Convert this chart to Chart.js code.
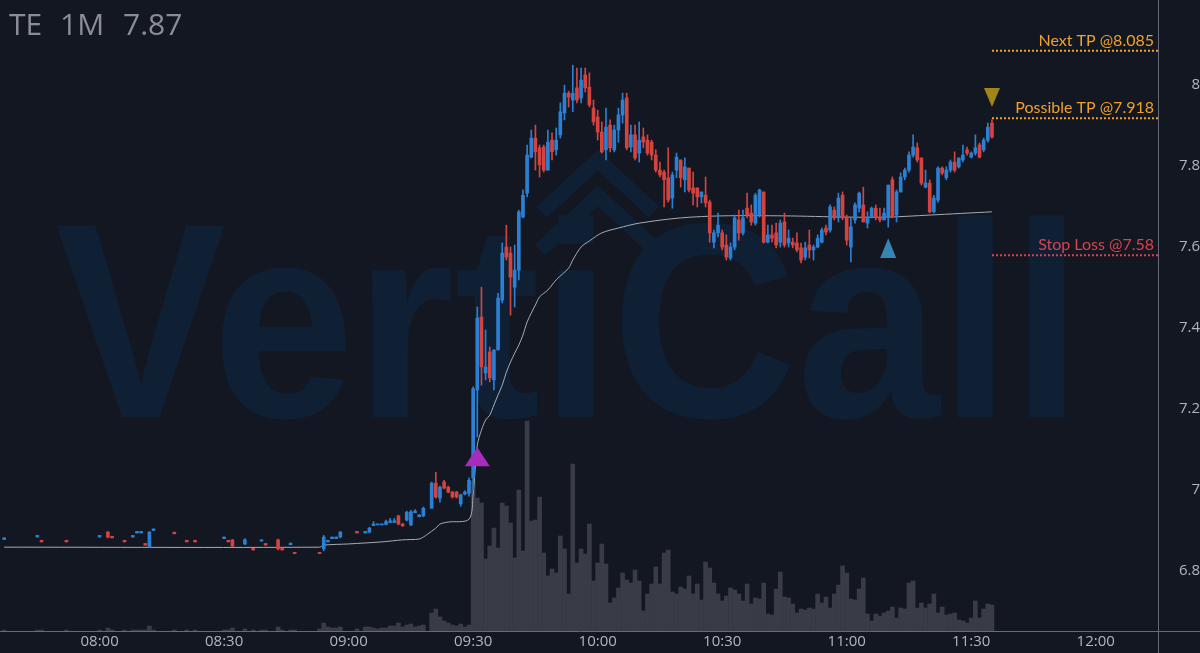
<!DOCTYPE html>
<html>
<head>
<meta charset="utf-8">
<script src="https://cdn.jsdelivr.net/npm/chart.js@4.4.1/dist/chart.umd.min.js"></script>
<style>
  html, body { margin: 0; padding: 0; background: #131722; }
  canvas { display: block; }
</style>
</head>
<body>
<canvas id="myChart" width="1200" height="653"></canvas>
<script>
// 1 minute bars, TE
const times = [
  "07:37","07:45","07:46","07:52","08:00","08:02","08:03","08:06","08:08","08:09",
  "08:10","08:11","08:12","08:13","08:18","08:21","08:23","08:30","08:31","08:32",
  "08:35","08:37","08:39","08:40","08:43","08:44","08:46","08:47","08:53","08:54",
  "08:55","08:56","08:57","08:58","09:02","09:04","09:05","09:06","09:07","09:08",
  "09:09","09:10","09:11","09:12","09:13","09:14","09:15","09:16","09:17","09:18",
  "09:20","09:21","09:22","09:23","09:24","09:25","09:26","09:27","09:28","09:29",
  "09:30","09:31","09:32","09:33","09:34","09:35","09:36","09:37","09:38","09:39",
  "09:40","09:41","09:42","09:43","09:44","09:45","09:46","09:47","09:48","09:49",
  "09:50","09:51","09:52","09:53","09:54","09:55","09:56","09:57","09:58","09:59",
  "10:00","10:01","10:02","10:03","10:04","10:05","10:06","10:07","10:08","10:09",
  "10:10","10:11","10:12","10:13","10:14","10:15","10:16","10:17","10:18","10:19",
  "10:20","10:21","10:22","10:23","10:24","10:25","10:26","10:27","10:28","10:29",
  "10:30","10:31","10:32","10:33","10:34","10:35","10:36","10:37","10:38","10:39",
  "10:40","10:41","10:42","10:43","10:44","10:45","10:46","10:47","10:48","10:49",
  "10:50","10:51","10:52","10:53","10:54","10:55","10:56","10:57","10:58","10:59",
  "11:00","11:01","11:02","11:03","11:04","11:05","11:06","11:07","11:08","11:09",
  "11:10","11:11","11:12","11:13","11:14","11:15","11:16","11:17","11:18","11:19",
  "11:20","11:21","11:22","11:23","11:24","11:25","11:26","11:27","11:28","11:29",
  "11:30","11:31","11:32","11:33","11:34","11:35"
];
const opens = [
  6.878,6.884,6.876,6.876,6.884,6.896,6.886,6.876,6.884,6.894,
  6.894,6.868,6.860,6.900,6.896,6.876,6.876,6.880,6.876,6.877,
  6.867,6.856,6.874,6.868,6.877,6.856,6.865,6.846,6.846,6.855,
  6.872,6.880,6.880,6.884,6.898,6.894,6.896,6.912,6.914,6.914,
  6.915,6.920,6.920,6.936,6.916,6.926,6.914,6.944,6.934,6.936,
  6.955,7.017,6.980,7.020,7.007,6.995,6.995,6.966,6.990,6.992,
  7.030,7.247,7.427,7.289,7.341,7.272,7.346,7.469,7.600,7.585,
  7.501,7.543,7.674,7.733,7.822,7.869,7.845,7.847,7.790,7.864,
  7.840,7.877,7.931,7.980,7.963,7.993,7.968,8.025,7.995,7.943,
  7.921,7.884,7.840,7.901,7.840,7.889,7.926,7.968,7.847,7.877,
  7.832,7.872,7.864,7.859,7.827,7.790,7.785,7.771,7.721,7.790,
  7.815,7.766,7.795,7.746,7.746,7.724,7.728,7.711,7.612,7.635,
  7.635,7.605,7.573,7.600,7.667,7.635,7.696,7.684,7.659,7.679,
  7.736,7.612,7.630,7.635,7.612,7.662,7.610,7.612,7.610,7.598,
  7.575,7.605,7.593,7.600,7.612,7.647,7.642,7.691,7.672,7.728,
  7.674,7.600,7.667,7.696,7.704,7.659,7.674,7.696,7.674,7.667,
  7.674,7.766,7.679,7.736,7.773,7.790,7.827,7.845,7.820,7.748,
  7.758,7.687,7.716,7.795,7.771,7.790,7.810,7.798,7.815,7.840,
  7.822,7.832,7.852,7.840,7.864,7.906
];
const highs = [
  6.882,6.888,6.876,6.876,6.888,6.898,6.886,6.876,6.888,6.898,
  6.898,6.868,6.898,6.904,6.896,6.876,6.876,6.884,6.876,6.878,
  6.880,6.856,6.877,6.868,6.879,6.856,6.869,6.846,6.846,6.888,
  6.876,6.884,6.884,6.898,6.898,6.898,6.908,6.922,6.916,6.916,
  6.926,6.930,6.930,6.938,6.918,6.948,6.950,6.952,6.940,6.958,
  7.020,7.044,7.010,7.024,7.010,6.997,6.997,6.990,6.998,7.030,
  7.255,7.452,7.501,7.395,7.353,7.346,7.486,7.610,7.654,7.600,
  7.605,7.691,7.741,7.852,7.889,7.901,7.852,7.852,7.889,7.882,
  7.894,7.956,8.000,7.985,8.049,8.042,8.042,8.042,8.030,7.963,
  7.938,7.909,7.943,7.914,7.901,7.943,7.980,7.980,7.901,7.901,
  7.909,7.894,7.877,7.864,7.840,7.810,7.790,7.845,7.785,7.832,
  7.815,7.820,7.795,7.785,7.746,7.736,7.773,7.716,7.642,7.684,
  7.642,7.630,7.610,7.679,7.691,7.691,7.733,7.704,7.733,7.743,
  7.736,7.654,7.654,7.659,7.667,7.684,7.642,7.622,7.635,7.610,
  7.612,7.642,7.605,7.630,7.647,7.654,7.704,7.699,7.733,7.736,
  7.679,7.672,7.709,7.736,7.748,7.687,7.699,7.704,7.696,7.696,
  7.753,7.773,7.741,7.783,7.795,7.835,7.877,7.857,7.820,7.790,
  7.766,7.728,7.798,7.798,7.798,7.815,7.835,7.820,7.852,7.847,
  7.835,7.877,7.857,7.869,7.906,7.914
];
const lows = [
  6.878,6.884,6.872,6.872,6.884,6.882,6.882,6.872,6.884,6.894,
  6.894,6.864,6.858,6.900,6.892,6.872,6.872,6.880,6.872,6.860,
  6.865,6.852,6.874,6.864,6.852,6.852,6.865,6.843,6.843,6.850,
  6.872,6.880,6.880,6.882,6.894,6.894,6.894,6.912,6.914,6.914,
  6.914,6.920,6.920,6.914,6.910,6.924,6.912,6.944,6.934,6.934,
  6.955,6.980,6.970,7.003,6.993,6.980,6.980,6.960,6.988,6.985,
  7.000,7.131,7.259,7.272,7.267,7.247,7.346,7.462,7.568,7.432,
  7.452,7.519,7.672,7.724,7.820,7.790,7.773,7.785,7.790,7.815,
  7.827,7.869,7.914,7.946,7.934,7.956,7.956,7.983,7.946,7.901,
  7.864,7.832,7.815,7.835,7.835,7.859,7.906,7.840,7.835,7.815,
  7.810,7.845,7.827,7.815,7.785,7.773,7.699,7.711,7.696,7.771,
  7.748,7.736,7.736,7.704,7.699,7.709,7.699,7.612,7.598,7.625,
  7.593,7.568,7.568,7.593,7.617,7.630,7.672,7.654,7.654,7.674,
  7.610,7.610,7.612,7.598,7.600,7.600,7.600,7.598,7.588,7.561,
  7.568,7.573,7.568,7.598,7.610,7.630,7.637,7.667,7.662,7.667,
  7.605,7.563,7.659,7.687,7.662,7.647,7.672,7.667,7.662,7.667,
  7.649,7.672,7.662,7.736,7.766,7.785,7.822,7.810,7.753,7.746,
  7.684,7.684,7.711,7.778,7.766,7.785,7.785,7.795,7.810,7.827,
  7.820,7.827,7.820,7.835,7.859,7.869
];
const closes = [
  6.882,6.888,6.872,6.872,6.888,6.884,6.882,6.872,6.888,6.898,
  6.898,6.864,6.896,6.904,6.892,6.872,6.872,6.884,6.872,6.862,
  6.877,6.852,6.877,6.864,6.855,6.852,6.869,6.843,6.843,6.884,
  6.876,6.884,6.884,6.896,6.894,6.898,6.906,6.916,6.916,6.916,
  6.922,6.924,6.924,6.916,6.912,6.945,6.946,6.948,6.938,6.955,
  7.017,6.983,7.007,7.005,6.995,6.983,6.983,6.988,6.995,7.024,
  7.250,7.425,7.304,7.304,7.277,7.346,7.474,7.585,7.575,7.526,
  7.543,7.687,7.728,7.827,7.869,7.835,7.803,7.790,7.859,7.835,
  7.864,7.934,7.980,7.970,7.980,7.963,8.012,7.993,7.951,7.909,
  7.884,7.835,7.896,7.845,7.889,7.926,7.963,7.845,7.877,7.820,
  7.864,7.859,7.832,7.827,7.790,7.778,7.766,7.716,7.778,7.822,
  7.771,7.798,7.741,7.733,7.724,7.736,7.709,7.635,7.635,7.654,
  7.600,7.575,7.600,7.672,7.635,7.672,7.679,7.662,7.728,7.741,
  7.612,7.630,7.622,7.605,7.659,7.605,7.622,7.605,7.593,7.568,
  7.598,7.593,7.600,7.622,7.642,7.637,7.699,7.672,7.721,7.672,
  7.617,7.650,7.704,7.733,7.662,7.674,7.696,7.674,7.667,7.684,
  7.753,7.674,7.736,7.773,7.790,7.827,7.847,7.815,7.758,7.758,
  7.687,7.721,7.795,7.783,7.790,7.810,7.790,7.820,7.827,7.832,
  7.832,7.845,7.822,7.864,7.896,7.872
];
// volume, thousands of shares
const volumes = [
  1,1,1,1,1,3,1,1,1,1,
  1,1,5,1,1,1,1,1,1,3,
  2,1,1,1,4,1,1,1,2,8,
  4,3,3,4,2,4,4,3,2,3,
  3,5,5,8,4,6,7,4,5,6,
  18,22,14,10,8,6,5,7,4,6,
  150,133,128,72,85,103,83,128,125,108,
  73,141,80,210,110,111,134,78,55,62,
  58,95,82,37,167,68,82,77,107,50,
  68,87,67,28,33,43,58,51,48,61,
  50,20,37,47,64,47,78,81,39,37,
  44,42,55,37,47,31,69,63,48,37,
  30,35,43,41,37,30,47,27,33,32,
  48,17,16,42,59,34,33,27,18,22,
  21,23,22,37,28,34,23,37,46,65,
  58,32,31,42,53,17,10,17,15,18,
  20,24,13,23,22,48,50,23,28,23,
  27,37,18,24,16,17,18,11,10,8,
  13,30,13,22,27,26
];

// VWAP
const vwapTimes = ["07:37","08:53","08:54","09:00","09:08","09:13","09:17","09:18","09:19","09:21","09:22","09:24","09:29",
  "09:30","09:31","09:32","09:33","09:34","09:35","09:36","09:37","09:38","09:39","09:40","09:41","09:42","09:43","09:44",
  "09:45","09:46","09:48","09:50","09:53","09:54","09:56","09:58","10:01","10:05","10:10","10:20","10:30","10:45",
  "11:00","11:10","11:20","11:35"];
const vwapValues = [6.859,6.859,6.864,6.867,6.872,6.877,6.879,6.884,6.891,6.906,6.916,6.921,6.928,
  6.990,7.111,7.148,7.173,7.185,7.210,7.235,7.259,7.291,7.316,7.338,7.358,7.383,7.415,7.437,
  7.457,7.477,7.494,7.519,7.548,7.568,7.600,7.615,7.635,7.647,7.659,7.672,7.677,7.677,
  7.674,7.674,7.679,7.687];

const xTickLabels = ["08:00","08:30","09:00","09:30","10:00","10:30","11:00","11:30","12:00"];
const yTickValues = [6.8, 7, 7.2, 7.4, 7.6, 7.8, 8];

const levelValues = [8.085, 7.918, 7.58];
const levelLabels = ["Next TP @8.085", "Possible TP @7.918", "Stop Loss @7.58"];
const levelColors = ["#f0a12c", "#f0a12c", "#d9434a"];
const levelFrom = "11:35";

// signal markers: time, apex price, base price
const markerTimes = ["09:31", "11:10", "11:35"];
const markerApex = [7.106, 7.622, 7.946];
const markerBase = [7.059, 7.573, 7.993];
const markerColors = ["#a82cbb", "#3584b4", "#a08519"];

const watermarkText = "VertiCall";
const watermarkColor = "#0f2035";

function toMin(s) {
  const p = s.split(":");
  return parseInt(p[0]) * 60 + parseInt(p[1]);
}
function fmtMin(m) {
  const h = Math.floor(m / 60), mm = Math.round(m % 60);
  return String(h).padStart(2, "0") + ":" + String(mm).padStart(2, "0");
}

const upColor = "#2c80d3";
const downColor = "#d5433f";
const axisLine = "#676a74";
const t = times.map(toMin);
const candleColors = closes.map((c, i) => c >= opens[i] ? upColor : downColor);

const bodyData = t.map((x, i) => ({ x: x, y: [opens[i], closes[i]] }));
const wickData = t.map((x, i) => ({ x: x, y: [lows[i], highs[i]] }));
const volData = t.map((x, i) => ({ x: x, y: volumes[i] }));
const vwapData = vwapTimes.map((s, i) => ({ x: toMin(s), y: vwapValues[i] }));

const bgPlugin = {
  id: "bg",
  beforeDraw(chart) {
    const ctx = chart.ctx;
    ctx.save();
    ctx.fillStyle = "#131722";
    ctx.fillRect(0, 0, chart.width, chart.height);
    ctx.restore();
  },
  beforeDatasetsDraw(chart) {
    // watermark text + logo chevrons
    const ctx = chart.ctx;
    ctx.save();
    ctx.font = 'bold 278px "Liberation Sans", Arial, sans-serif';
    const m = ctx.measureText(watermarkText);
    const w = m.actualBoundingBoxLeft + m.actualBoundingBoxRight;
    ctx.save();
    ctx.translate(55, 417);
    ctx.scale((1067 - 55) / w, 1);
    ctx.fillStyle = watermarkColor;
    ctx.textBaseline = "alphabetic";
    ctx.fillText(watermarkText, m.actualBoundingBoxLeft, 0);
    ctx.restore();
    ctx.strokeStyle = watermarkColor;
    ctx.lineWidth = 15;
    ctx.lineJoin = "miter";
    ctx.beginPath();
    ctx.moveTo(542, 212); ctx.lineTo(598, 160); ctx.lineTo(654, 212);
    ctx.moveTo(540, 250); ctx.lineTo(598, 196); ctx.lineTo(656, 250);
    ctx.stroke();
    ctx.restore();
  },
  afterDatasetsDraw(chart) {
    const ctx = chart.ctx;
    const xs = chart.scales.x, ys = chart.scales.y;
    const area = chart.chartArea;

    // price levels
    const x0 = xs.getPixelForValue(toMin(levelFrom));
    levelValues.forEach((v, i) => {
      const y = ys.getPixelForValue(v);
      ctx.save();
      ctx.strokeStyle = levelColors[i];
      ctx.lineWidth = 2;
      ctx.setLineDash([2, 2]);
      ctx.beginPath();
      ctx.moveTo(x0, y);
      ctx.lineTo(area.right, y);
      ctx.stroke();
      ctx.setLineDash([]);
      ctx.fillStyle = levelColors[i];
      ctx.font = '16px Lato, "Open Sans", sans-serif';
      ctx.textAlign = "right";
      ctx.textBaseline = "alphabetic";
      ctx.fillText(levelLabels[i], area.right - 4, y - 5);
      ctx.restore();
    });

    // markers
    markerTimes.forEach((s, i) => {
      const x = xs.getPixelForValue(toMin(s));
      const ya = ys.getPixelForValue(markerApex[i]);
      const yb = ys.getPixelForValue(markerBase[i]);
      const half = i === 0 ? 12.5 : 8;
      ctx.save();
      ctx.fillStyle = markerColors[i];
      ctx.beginPath();
      ctx.moveTo(x, ya);
      ctx.lineTo(x - half, yb);
      ctx.lineTo(x + half, yb);
      ctx.closePath();
      ctx.fill();
      ctx.restore();
    });

    // symbol header
    ctx.save();
    ctx.fillStyle = "#8a8d96";
    ctx.font = '30px "Open Sans", sans-serif';
    ctx.textBaseline = "alphabetic";
    ctx.fillText("TE", 9, 35);
    ctx.fillText("1M", 60, 35);
    ctx.fillText("7.87", 123, 35);
    ctx.restore();
  },
  afterDraw(chart) {
    // axis lines run on into the corner box
    const ctx = chart.ctx;
    const area = chart.chartArea;
    ctx.save();
    ctx.strokeStyle = axisLine;
    ctx.lineWidth = 1;
    ctx.beginPath();
    ctx.moveTo(area.right + 0.5, area.bottom);
    ctx.lineTo(area.right + 0.5, chart.height);
    ctx.moveTo(area.right, area.bottom + 0.5);
    ctx.lineTo(chart.width, area.bottom + 0.5);
    ctx.stroke();
    ctx.restore();
  }
};

new Chart("myChart", {
  type: "bar",
  data: {
    datasets: [
      {
        type: "bar",
        data: bodyData,
        backgroundColor: candleColors,
        barThickness: 3,
        minBarLength: 1,
        grouped: false,
        order: 1,
        yAxisID: "y"
      },
      {
        type: "bar",
        data: wickData,
        backgroundColor: candleColors,
        barThickness: 1,
        grouped: false,
        order: 2,
        yAxisID: "y"
      },
      {
        type: "line",
        data: vwapData,
        borderColor: "#a7aab2",
        borderWidth: 1,
        pointRadius: 0,
        tension: 0.3,
        order: 3,
        yAxisID: "y"
      },
      {
        type: "bar",
        data: volData,
        backgroundColor: "#393c46",
        barThickness: 4,
        grouped: false,
        order: 4,
        yAxisID: "yv"
      }
    ]
  },
  plugins: [bgPlugin],
  options: {
    responsive: false,
    animation: false,
    devicePixelRatio: 1,
    layout: { padding: 0 },
    plugins: {
      legend: { display: false },
      tooltip: { enabled: false }
    },
    scales: {
      x: {
        type: "linear",
        min: toMin("07:36"),
        max: toMin("12:15"),
        offset: false,
        grid: { display: false, drawTicks: false },
        border: { display: true, color: axisLine },
        afterBuildTicks(scale) {
          scale.ticks = xTickLabels.map(s => ({ value: toMin(s) }));
        },
        afterFit(scale) {
          scale.height = 22;
          scale.paddingLeft = 0;
          scale.paddingRight = 0;
        },
        ticks: {
          color: "#b2b5be",
          font: { family: '"Open Sans", sans-serif', size: 15 },
          padding: 2,
          maxRotation: 0,
          autoSkip: false,
          callback: v => fmtMin(v)
        }
      },
      y: {
        position: "right",
        min: 6.652,
        max: 8.21,
        grid: { display: false, drawTicks: false },
        border: { display: true, color: axisLine },
        afterBuildTicks(scale) {
          scale.ticks = yTickValues.map(v => ({ value: v }));
        },
        afterFit(scale) {
          scale.width = 42;
          scale.paddingTop = 0;
          scale.paddingBottom = 0;
        },
        ticks: {
          color: "#b2b5be",
          font: { family: '"Open Sans", sans-serif', size: 15 },
          padding: 14,
          crossAlign: "far",
          callback: v => String(Math.round(v * 10) / 10)
        }
      },
      yv: {
        display: false,
        min: 0,
        max: 631
      }
    }
  }
});
</script>
</body>
</html>
